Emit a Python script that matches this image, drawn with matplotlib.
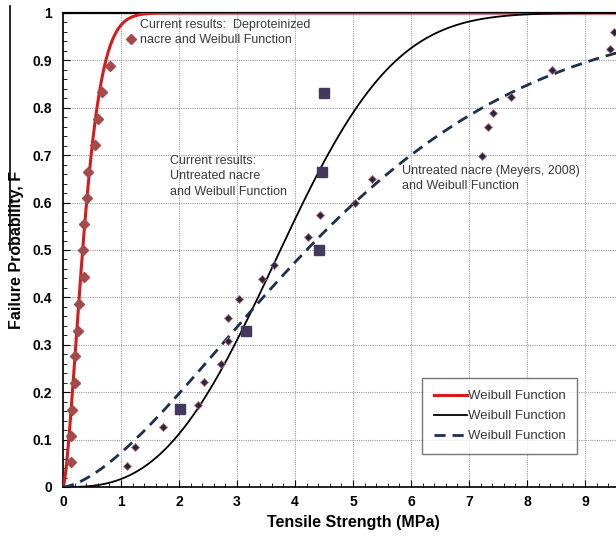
import numpy as np
import matplotlib
matplotlib.use('Agg')
import matplotlib.pyplot as plt
from matplotlib.ticker import MultipleLocator, FixedLocator, FuncFormatter
from matplotlib.lines import Line2D

plt.rcParams['font.family'] = ['Liberation Sans', 'DejaVu Sans']

# deproteinized nacre (current results)
dep_x = [0.13, 0.14, 0.155, 0.20, 0.20, 0.25, 0.28, 0.36, 0.35, 0.36, 0.41, 0.43, 0.56, 0.61, 0.68, 0.81, 1.18]
dep_f = [0.053, 0.108, 0.163, 0.22, 0.276, 0.33, 0.387, 0.442, 0.50, 0.555, 0.61, 0.665, 0.722, 0.777, 0.833, 0.888, 0.945]

# untreated nacre (current results)
unt_x = [2.02, 3.15, 4.41, 4.46, 4.50]
unt_f = [0.164, 0.33, 0.499, 0.665, 0.832]

# untreated nacre (Meyers, 2008)
mey_x = [1.11, 1.24, 1.73, 2.33, 2.43, 2.73, 2.84, 2.84, 3.03, 3.43, 3.63, 4.23, 4.43,
         5.03, 5.32, 7.22, 7.32, 7.42, 7.72, 8.43, 9.43, 9.50]
mey_f = [0.045, 0.085, 0.127, 0.172, 0.222, 0.259, 0.307, 0.357, 0.397, 0.438, 0.468, 0.528, 0.573,
         0.600, 0.649, 0.698, 0.759, 0.788, 0.823, 0.880, 0.923, 0.960]

# Weibull parameters (scale, modulus) for the three fitted curves
weib_scale = [0.43, 4.27, 5.32]
weib_mod = [1.54, 2.81, 1.55]
weib_labels = ['Weibull Function', 'Weibull Function', 'Weibull Function']

x_ticks = [0, 1, 2, 3, 4, 5, 6, 7, 8, 9]


def weibull(x, s, m):
    return 1 - np.exp(-(x / s) ** m)


fig = plt.figure(figsize=(6.16, 5.37), dpi=100)
ax = fig.add_axes([63 / 616, 50 / 537, 580 / 616, 474 / 537])

xs = np.linspace(0, 10, 600)
ax.plot(xs, weibull(xs, weib_scale[0], weib_mod[0]), color='#d41c1c', lw=2.2, label=weib_labels[0], zorder=3)
ax.plot(xs, weibull(xs, weib_scale[1], weib_mod[1]), color='black', lw=1.3, label=weib_labels[1], zorder=3)
ax.plot(xs, weibull(xs, weib_scale[2], weib_mod[2]), color='#1c2f4d', lw=2.0, ls=(0, (4, 2.5)),
        label=weib_labels[2], zorder=3)

ax.plot(dep_x, dep_f, 'D', color='#a5494a', ms=5, mec='#a5494a', zorder=4)
ax.plot(unt_x, unt_f, 's', color='#45385f', ms=7, zorder=4)
ax.plot(mey_x, mey_f, 'D', color='#1c2a48', mec='#c86a6a', mew=0.6, ms=4, zorder=4)

ax.set_xlim(0, 10)
ax.set_ylim(0, 1)
ax.xaxis.set_major_locator(FixedLocator(x_ticks))
ax.xaxis.set_minor_locator(MultipleLocator(0.2))
ax.yaxis.set_major_locator(MultipleLocator(0.1))
ax.yaxis.set_minor_locator(MultipleLocator(0.02))
ax.yaxis.set_major_formatter(FuncFormatter(lambda v, p: '%g' % round(v, 2)))
ax.tick_params(which='both', direction='in', top=False, right=False)
ax.tick_params(which='major', length=5, labelsize=10)
ax.tick_params(axis='x', which='major', pad=6)
ax.tick_params(axis='y', which='major', pad=8)
ax.tick_params(which='minor', length=3)
for lab in ax.get_xticklabels() + ax.get_yticklabels():
    lab.set_fontweight('bold')
ax.grid(True, which='major', color='#9a9a9a', ls=(0, (1, 1)), lw=0.8)
for sp in ax.spines.values():
    sp.set_linewidth(1.2)
ax.spines['top'].set_linewidth(1.6)

ax.set_xlabel('Tensile Strength (MPa)', fontsize=11.5, fontweight='bold', labelpad=4)
ax.set_ylabel('Failure Probability, F', fontsize=11.5, fontweight='bold', labelpad=6)

txt_color = '#3a3a3a'
ax.text(1.33, 0.988, 'Current results:  Deproteinized\nnacre and Weibull Function', fontsize=9,
        color=txt_color, va='top', linespacing=1.35)
ax.text(1.84, 0.700, 'Current results:\nUntreated nacre\nand Weibull Function', fontsize=9,
        color=txt_color, va='top', linespacing=1.35)
ax.text(5.84, 0.680, 'Untreated nacre (Meyers, 2008)\nand Weibull Function', fontsize=9,
        color=txt_color, va='top', linespacing=1.35)

leg = ax.legend(loc='lower left', bbox_to_anchor=(0.607, 0.055), fontsize=9.5, frameon=True,
                fancybox=False, edgecolor='#555555', handlelength=2.5, handletextpad=0.1,
                borderpad=0.9, labelspacing=0.6)
leg.get_frame().set_linewidth(1.0)
for t in leg.get_texts():
    t.set_color(txt_color)

fig.add_artist(Line2D([10 / 616, 10 / 616], [1 - 6 / 537, 1 - 250 / 537], color='black', lw=1.2))

fig.savefig('out.png', dpi=100)
